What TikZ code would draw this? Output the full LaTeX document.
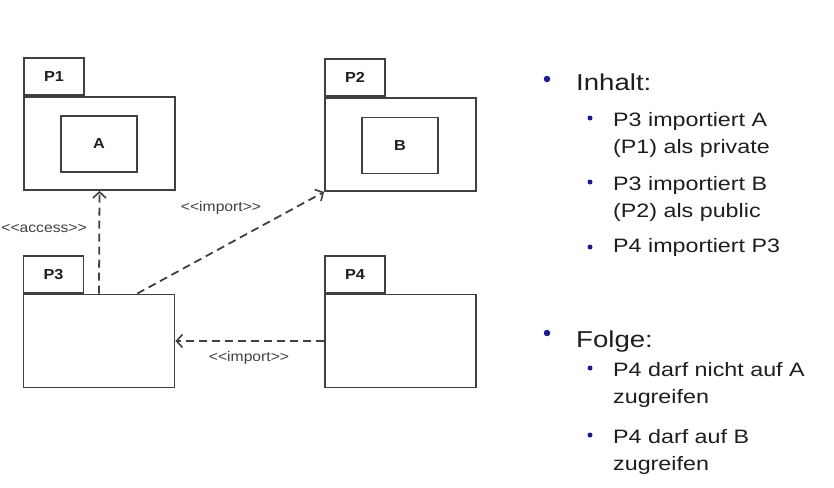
\documentclass[tikz,border=0pt]{standalone}
\usepackage{fontspec}
\setmainfont{Liberation Sans}
\newfontfamily\txtfont[FakeStretch=1.2]{Liberation Sans}
\newfontfamily\lblfont[FakeStretch=1.12]{Liberation Sans}
\usetikzlibrary{arrows.meta,calc}
\definecolor{ln}{HTML}{404040}
\definecolor{tx}{HTML}{1E1E1E}
\definecolor{bl}{HTML}{1C1C8E}
\tikzset{
  pkgbody/.style={draw=ln,line width=1.8pt,minimum width=151pt,minimum height=93pt,inner sep=0pt,fill=white},
  pkgtab/.style={draw=ln,line width=1.8pt,minimum width=60pt,minimum height=37pt,inner sep=0pt,anchor=south west,font=\lblfont\bfseries\fontsize{14.5}{14.5}\selectfont,text=tx},
  inner/.style={draw=ln,line width=1.8pt,minimum width=76pt,minimum height=56pt,inner sep=0pt,font=\lblfont\bfseries\fontsize{14.5}{14.5}\selectfont,text=tx},
  dep/.style={draw=ln,line width=1.8pt,dash pattern=on 8pt off 5pt,-{Straight Barb[length=6pt,width=13pt,line width=1.6pt]}},
  lbl/.style={font=\lblfont\fontsize{14}{14}\selectfont,text=tx!85,inner sep=0pt},
  main/.style={font=\txtfont\fontsize{23}{23}\selectfont,text=tx,anchor=base west,inner sep=0pt},
  sub/.style={font=\txtfont\fontsize{19.4}{19.4}\selectfont,text=tx,anchor=base west,inner sep=0pt},
  bigdot/.style={circle,fill=bl,inner sep=0pt,minimum size=6.5pt},
  smalldot/.style={circle,fill=bl,inner sep=0pt,minimum size=5pt}
}
\begin{document}
\begin{tikzpicture}[x=1pt,y=-1pt]
\useasboundingbox[fill=white] (0,0) rectangle (834,487);
% packages
\node[pkgbody] (p1) at (99.5,143.5) {};
\node[pkgtab] (t1) at (p1.north west) {P1};
\node[inner] (a) at (99,144) {A};
\node[pkgbody] (p2) at (400.5,144.5) {};
\node[pkgtab] (t2) at (p2.north west) {P2};
\node[inner] (b) at (400,145.5) {B};
\node[pkgbody] (p3) at (99,341) {};
\node[pkgtab] (t3) at (p3.north west) {P3};
\node[pkgbody] (p4) at (400.5,341) {};
\node[pkgtab] (t4) at (p4.north west) {P4};
% dependencies
\coordinate (s1) at ($(p3.north west)!0.75!(p3.north east)$);
\draw[dep] (p3.north) -- (p1.south);
\draw[dep] (s1) -- (p2.south west);
\draw[dep] (p4.west) -- (p3.east);
\begin{scope}
\clip (0,0) rectangle (834,487);
\node[lbl,anchor=east] (lacc) at (87,228) {<\kern0pt<access>\kern0pt>};
\end{scope}
\node[lbl] (limp1) at (221,208) {<\kern0pt<import>\kern0pt>};
\node[lbl] (limp2) at (249,358) {<\kern0pt<import>\kern0pt>};
% text
\node[bigdot] (d1) at (547,79) {};
\node[main] (h1) at (576,90) {Inhalt:};
\node[smalldot] (d11) at (590,118) {};
\node[sub] (l1) at (613,126) {P3 importiert A};
\node[sub] (l2) at (613,153) {(P1) als private};
\node[smalldot] (d12) at (590,182) {};
\node[sub] (l3) at (613,190) {P3 importiert B};
\node[sub] (l4) at (613,217) {(P2) als public};
\node[smalldot] (d13) at (590,247) {};
\node[sub] (l5) at (613,252) {P4 importiert P3};
\node[bigdot] (d2) at (547,333) {};
\node[main] (h2) at (576,347) {Folge:};
\node[smalldot] (d21) at (590,368) {};
\node[sub] (l6) at (613,376) {P4 darf nicht auf A};
\node[sub] (l7) at (613,403) {zugreifen};
\node[smalldot] (d22) at (590,435) {};
\node[sub] (l8) at (613,443) {P4 darf auf B};
\node[sub] (l9) at (613,470) {zugreifen};
\end{tikzpicture}
\end{document}
